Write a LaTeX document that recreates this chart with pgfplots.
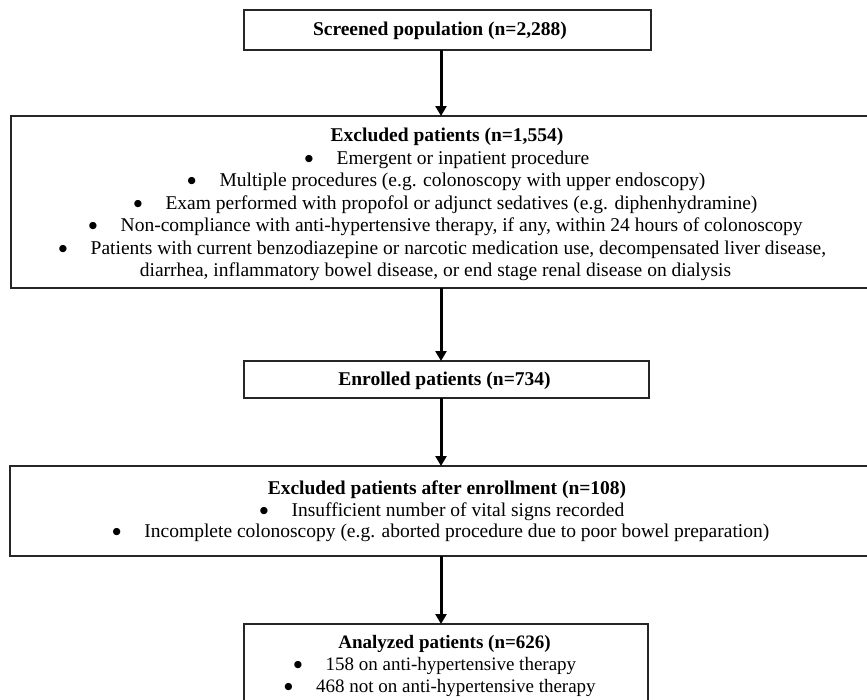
\documentclass[border=0pt]{standalone}
\usepackage{fontspec}
\setmainfont{Liberation Serif}
\newfontfamily\djv{DejaVu Sans}
\usepackage{pgfplots}
\pgfplotsset{compat=1.18}
\usetikzlibrary{arrows.meta}
\newcommand{\bul}{\raisebox{2.8pt}{\djv\fontsize{9.5}{9.5}\selectfont ●}\hspace{23.5pt}}
\begin{document}
\begin{tikzpicture}
\begin{axis}[scale only axis, width=867pt, height=699pt,
  xmin=0, xmax=867, ymin=0, ymax=699, y dir=reverse,
  hide axis, clip=true]
\path (rel axis cs:0,0) rectangle (rel axis cs:1,1);
% boxes
\addplot[black!85, line width=1.5pt, line join=miter, mark=none] coordinates {(244,10) (651,10) (651,50) (244,50) (244,10) (651,10)};
\addplot[black!85, line width=1.5pt, line join=miter, mark=none] coordinates {(11,116) (880,116) (880,288) (11,288) (11,116) (880,116)};
\addplot[black!85, line width=1.5pt, line join=miter, mark=none] coordinates {(244,361) (649,361) (649,398) (244,398) (244,361) (649,361)};
\addplot[black!85, line width=1.5pt, line join=miter, mark=none] coordinates {(10,466) (880,466) (880,556) (10,556) (10,466) (880,466)};
\addplot[black!85, line width=1.5pt, line join=miter, mark=none] coordinates {(244,720) (244,624) (648,624) (648,720)};
% arrows
\addplot[black, line width=3pt, mark=none, -{Triangle[length=10pt,width=11pt]}] coordinates {(441,50) (441,116)};
\addplot[black, line width=3pt, mark=none, -{Triangle[length=10pt,width=11pt]}] coordinates {(441,288) (441,361)};
\addplot[black, line width=3pt, mark=none, -{Triangle[length=10pt,width=11pt]}] coordinates {(441,398) (441,466)};
\addplot[black, line width=3pt, mark=none, -{Triangle[length=10pt,width=11pt]}] coordinates {(441,556) (441,624)};
% texts
\tikzset{t/.style={anchor=base, inner sep=0pt, font=\fontsize{19.5}{22}\selectfont}}
\node[t, font=\fontsize{19.5}{22}\selectfont\bfseries] at (axis cs:440,35) {Screened population (n=2,288)};
\node[t, font=\fontsize{19.5}{22}\selectfont\bfseries] at (axis cs:447,141.5) {Excluded patients (n=1,554)};
\node[t] at (axis cs:447,164) {\bul Emergent or inpatient procedure};
\node[t] at (axis cs:446.5,186.5) {\bul Multiple procedures (e.g. colonoscopy with upper endoscopy)};
\node[t] at (axis cs:445.6,209) {\bul Exam performed with propofol or adjunct sedatives (e.g. diphenhydramine)};
\node[t] at (axis cs:445.8,231.5) {\bul Non-compliance with anti-hypertensive therapy, if any, within 24 hours of colonoscopy};
\node[t] at (axis cs:442.5,254) {\bul Patients with current benzodiazepine or narcotic medication use, decompensated liver disease,};
\node[t] at (axis cs:435.5,276.5) {diarrhea, inflammatory bowel disease, or end stage renal disease on dialysis};
\node[t, font=\fontsize{19.5}{22}\selectfont\bfseries] at (axis cs:444.5,385) {Enrolled patients (n=734)};
\node[t, font=\fontsize{19.5}{22}\selectfont\bfseries] at (axis cs:447,494) {Excluded patients after enrollment (n=108)};
\node[t] at (axis cs:442,516.5) {\bul Insufficient number of vital signs recorded};
\node[t] at (axis cs:441,537) {\bul Incomplete colonoscopy (e.g. aborted procedure due to poor bowel preparation)};
\node[t, font=\fontsize{19}{22}\selectfont\bfseries] at (axis cs:444.5,648) {Analyzed patients (n=626)};
\node[t, font=\fontsize{19}{22}\selectfont] at (axis cs:435,670) {\bul 158 on anti-hypertensive therapy};
\node[t, font=\fontsize{19}{22}\selectfont] at (axis cs:440,692) {\bul 468 not on anti-hypertensive therapy};
\end{axis}
\end{tikzpicture}
\end{document}
